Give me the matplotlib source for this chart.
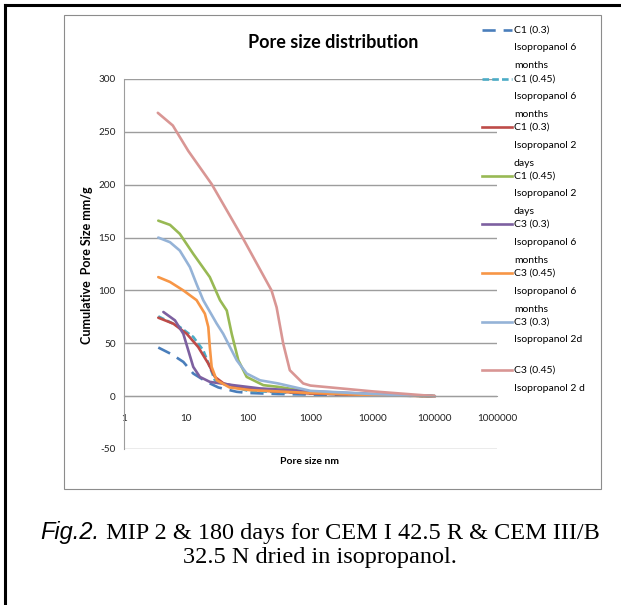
import numpy as np
import matplotlib
matplotlib.use("Agg")
import matplotlib.pyplot as plt
from matplotlib.lines import Line2D

W, H = 621, 605

# Pore size (nm) vs cumulative pore size (mm/g)
series_labels = [
    "C1 (0.3)\nIsopropanol 6\nmonths",
    "C1 (0.45)\nIsopropanol 6\nmonths",
    "C1 (0.3)\nIsopropanol 2\ndays",
    "C1 (0.45)\nIsopropanol 2\ndays",
    "C3 (0.3)\nIsopropanol 6\nmonths",
    "C3 (0.45)\nIsopropanol 6\nmonths",
    "C3 (0.3)\nIsopropanol 2d",
    "C3 (0.45)\nIsopropanol 2 d",
]

c1_03_6m_x = [3.56, 5.8, 9, 13, 21.3, 33, 65, 100, 300, 1000, 10000, 100000]
c1_03_6m_y = [46, 39.7, 32.4, 21.4, 13.5, 8.2, 4.1, 3, 2, 1.5, 0.8, 0]

c1_045_6m_x = [3.56, 7.9, 13, 18.8, 24, 29, 45, 100, 1000, 10000, 100000]
c1_045_6m_y = [75.5, 65.4, 56, 43.4, 27.7, 15, 10.4, 5, 2.5, 1, 0]

c1_03_2d_x = [3.56, 6.2, 10.2, 15.6, 22.7, 29, 40, 83, 200, 1000, 10000, 100000]
c1_03_2d_y = [74.2, 68.6, 59, 46.5, 30.8, 18.2, 12, 7.3, 5, 2.5, 1, 0]

c1_045_2d_x = [3.56, 5.5, 7.9, 13, 24, 35, 45, 54, 69, 94, 174, 302, 1000, 10000, 100000]
c1_045_2d_y = [166, 162, 153.5, 134.6, 112.6, 90.8, 81, 59, 34, 18.2, 10.4, 8.8, 4, 1.5, 0]

c3_03_6m_x = [4.3, 6.6, 9, 10.8, 13, 16.6, 24, 57, 154, 1000, 10000, 100000]
c3_03_6m_y = [79.6, 71.7, 59, 43.4, 27.7, 18.2, 13.5, 10.4, 7.3, 4.5, 2, 0]

c3_045_6m_x = [3.56, 5.5, 9, 14.7, 20, 22.7, 24, 25.7, 31, 50, 106, 1000, 10000, 100000]
c3_045_6m_y = [112.6, 108, 100, 90.8, 78, 65.4, 46.5, 27.7, 15, 8.2, 5.7, 3, 1, 0]

c3_03_2d_x = [3.56, 5.5, 7.9, 11.5, 14.7, 18.8, 31, 39.4, 65, 94, 154, 302, 1000, 10000, 100000]
c3_03_2d_y = [150, 145.6, 137.7, 122, 106, 90.8, 68.6, 59, 34, 21.4, 15, 12, 5, 2, 0]

c3_045_2d_x = [3.5, 6.1, 10.8, 25.7, 83, 236, 285, 364, 465, 763, 1000, 10000, 100000]
c3_045_2d_y = [268, 256, 232, 200.6, 148.7, 100, 84, 49.7, 24.5, 12, 10, 4.5, 0]

xs = [c1_03_6m_x, c1_045_6m_x, c1_03_2d_x, c1_045_2d_x,
      c3_03_6m_x, c3_045_6m_x, c3_03_2d_x, c3_045_2d_x]
ys = [c1_03_6m_y, c1_045_6m_y, c1_03_2d_y, c1_045_2d_y,
      c3_03_6m_y, c3_045_6m_y, c3_03_2d_y, c3_045_2d_y]

colors = ["#4A7EBB", "#4BACC6", "#BE4B48", "#98B954",
          "#7D60A0", "#F79646", "#95B3D7", "#D99694"]
styles = [(0, (5, 3)), (0, (2.5, 1.2)), "-", "-", "-", "-", "-", "-"]

xticks = [1, 10, 100, 1000, 10000, 100000, 1000000]
yticks = [-50, 0, 50, 100, 150, 200, 250, 300]

FONT = ["Lato", "DejaVu Sans"]
plt.rcParams["font.family"] = FONT


def px(x, y):
    # pixel position (from top-left) -> figure fraction
    return x / W, 1 - y / H


fig = plt.figure(figsize=(W / 100, H / 100), dpi=100)

# outer page frame (left and top) and grey chart frame
fig.add_artist(Line2D([5 / W, 5 / W], [0, 1 - 5 / H], color="black", lw=2.2))
fig.add_artist(Line2D([5 / W, 1], [1 - 5 / H, 1 - 5 / H], color="black", lw=2.2))
fx0, fy0 = px(64, 489)
fx1, fy1 = px(601, 15)
fig.add_artist(plt.Rectangle((fx0, fy0), fx1 - fx0, fy1 - fy0, fill=False,
                             edgecolor="#8c8c8c", lw=0.8))

l, b = px(124, 449)
r, t = px(497, 79)
ax = fig.add_axes([l, b, r - l, t - b])

for x, y, c, ls in zip(xs, ys, colors, styles):
    ax.plot(x, y, color=c, ls=ls, lw=1.9, solid_capstyle="round",
            solid_joinstyle="round")

ax.set_xscale("log")
ax.set_xlim(1, 1000000)
ax.set_ylim(-50, 300)
ax.set_xticks(xticks)
ax.set_xticklabels([str(v) for v in xticks])
ax.minorticks_off()
ax.set_yticks(yticks)
ax.set_yticklabels([str(v) for v in yticks])
ax.yaxis.grid(True, color="#9d9d9d", lw=1.0)
ax.set_axisbelow(True)
for s in ["top", "right"]:
    ax.spines[s].set_visible(False)
ax.spines["bottom"].set_position(("data", 0))
ax.spines["bottom"].set_color("#9d9d9d")
ax.spines["left"].set_color("#9d9d9d")
ax.tick_params(axis="both", length=0, labelsize=7.2, colors="#222222")
ax.tick_params(axis="x", pad=13)
ax.tick_params(axis="y", pad=6)
ax.patch.set_alpha(0)

# axis titles
fig.text(*px(310, 461), "Pore size nm", ha="center", va="center",
         fontsize=7.5, fontweight="bold")
fig.text(*px(87, 265), "Cumulative  Pore Size mm/g", ha="center", va="center",
         rotation=90, fontsize=9, fontweight="bold")
fig.text(*px(333, 42), "Pore size distribution", ha="center", va="center",
         fontsize=13, fontweight="bold")

# legend, drawn by hand to get the wrapped Excel look
for i, (lab, c, ls) in enumerate(zip(series_labels, colors, styles)):
    y0 = 30 + 48.6 * i
    lx0, ly = px(482, y0)
    lx1, _ = px(512, y0)
    fig.add_artist(Line2D([lx0, lx1], [ly, ly], color=c, ls=ls, lw=1.9))
    for k, line in enumerate(lab.split("\n")):
        fig.text(*px(514, y0 + 18 * k), line, ha="left", va="center", fontsize=7.5)

# caption: italic sans "Fig.2." followed by serif text
renderer = fig.canvas.get_renderer()
t1 = fig.text(0, 1 - 533 / H, "Fig.2.", family="Liberation Sans", style="italic",
              fontsize=17, va="center")
t2 = fig.text(0, 1 - 533 / H, " MIP 2 & 180 days for CEM I 42.5 R & CEM III/B",
              family="Liberation Serif", fontsize=17.5, va="center")
w1 = t1.get_window_extent(renderer).width
w2 = t2.get_window_extent(renderer).width
start = 320 - (w1 + w2) / 2
t1.set_x(start / W)
t2.set_x((start + w1) / W)
fig.text(320 / W, 1 - 557 / H, "32.5 N dried in isopropanol.",
         family="Liberation Serif", fontsize=17.5, ha="center", va="center")

fig.savefig("out.png", dpi=100)
